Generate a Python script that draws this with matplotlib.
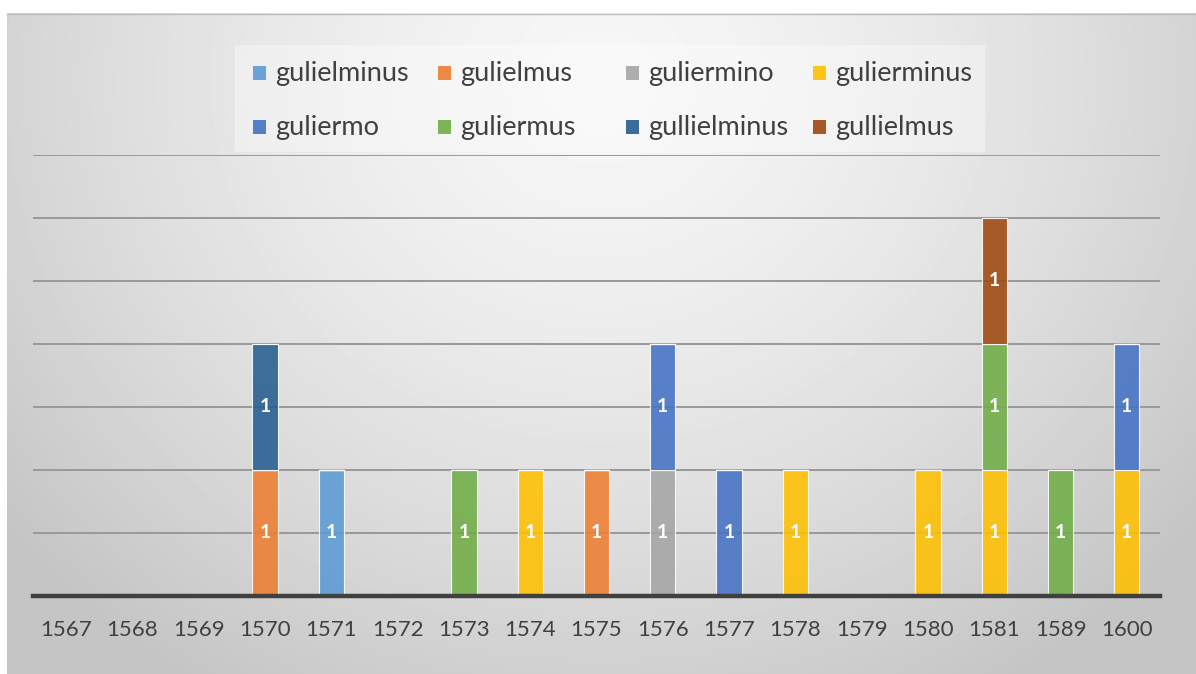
import numpy as np
import matplotlib.pyplot as plt
from matplotlib.patches import Rectangle

plt.rcParams['font.family'] = ['Lato', 'DejaVu Sans']

years = ['1567', '1568', '1569', '1570', '1571', '1572', '1573', '1574', '1575',
         '1576', '1577', '1578', '1579', '1580', '1581', '1589', '1600']

names = ['gulielminus', 'gulielmus', 'guliermino', 'gulierminus',
         'guliermo', 'guliermus', 'gullielminus', 'gullielmus']

#                1567 68 69 70 71 72 73 74 75 76 77 78 79 80 81 89 1600
gulielminus  = [0, 0, 0, 0, 1, 0, 0, 0, 0, 0, 0, 0, 0, 0, 0, 0, 0]
gulielmus    = [0, 0, 0, 1, 0, 0, 0, 0, 1, 0, 0, 0, 0, 0, 0, 0, 0]
guliermino   = [0, 0, 0, 0, 0, 0, 0, 0, 0, 1, 0, 0, 0, 0, 0, 0, 0]
gulierminus  = [0, 0, 0, 0, 0, 0, 0, 1, 0, 0, 0, 1, 0, 1, 1, 0, 1]
guliermo     = [0, 0, 0, 0, 0, 0, 0, 0, 0, 1, 1, 0, 0, 0, 0, 0, 1]
guliermus    = [0, 0, 0, 0, 0, 0, 1, 0, 0, 0, 0, 0, 0, 0, 1, 1, 0]
gullielminus = [0, 0, 0, 1, 0, 0, 0, 0, 0, 0, 0, 0, 0, 0, 0, 0, 0]
gullielmus   = [0, 0, 0, 0, 0, 0, 0, 0, 0, 0, 0, 0, 0, 0, 1, 0, 0]

series = [gulielminus, gulielmus, guliermino, gulierminus,
          guliermo, guliermus, gullielminus, gullielmus]
colors = ['#5B9BD5', '#ED7D31', '#A5A5A5', '#FFC000',
          '#4472C4', '#70AD47', '#255E91', '#9E480E']

W, H = 1196, 674
fig = plt.figure(figsize=(W / 100, H / 100), dpi=100)
fig.patch.set_facecolor('white')

def fx(px):
    return px / W

def fy(py):
    return 1 - py / H

# radial grey backdrop of the chart area
bg = fig.add_axes([fx(7), 0, 1 - fx(7), fy(13)])
yy, xx = np.mgrid[13:H, 7:W]
d = np.sqrt(((xx - 600) / 700.0) ** 2 + ((yy - 80) / 650.0) ** 2)
shade = np.clip(0.965 - 0.17 * d ** 1.5, 0.77, 1.0)
bg.imshow(shade, cmap='gray', vmin=0, vmax=1, aspect='auto',
          interpolation='bilinear')
bg.axis('off')
fig.add_artist(plt.Line2D([fx(7), 1], [fy(13.5), fy(13.5)],
                          transform=fig.transFigure, color='#BDBDBD', lw=1))

ax = fig.add_axes([fx(33), 1 - 596 / H, fx(1160 - 33), 441 / H])
ax.set_facecolor('none')
x = np.arange(len(years))
bottom = np.zeros(len(years))
for vals, name, col in zip(series, names, colors):
    vals = np.array(vals, dtype=float)
    bars = ax.bar(x, vals, 0.38, bottom=bottom, color=col, alpha=0.88,
                  edgecolor=(1, 1, 1, 0.35), linewidth=0.8, zorder=2)
    for b, v in zip(bars, vals):
        if v > 0:
            ax.text(b.get_x() + b.get_width() / 2, b.get_y() + v / 2,
                    f'{v:g}', ha='center', va='center', color='white',
                    fontsize=14, fontweight='bold', zorder=3)
    bottom += vals

ax.set_xlim(-0.5, len(years) - 0.5)
ax.set_ylim(0, 3.5)
ax.set_yticks(np.arange(0, 3.51, 0.5))
ax.yaxis.grid(True, color='#999999', lw=1.4, zorder=0)
ax.set_axisbelow(True)
ax.tick_params(axis='y', left=False, labelleft=False)
ax.set_xticks(x)
ax.set_xticklabels(years, fontsize=16, color='#404040')
ax.tick_params(axis='x', length=0, pad=17)
for s in ax.spines.values():
    s.set_visible(False)
ax.axhline(0, color='#404040', lw=3.2, zorder=4, clip_on=False)

# legend, 4 columns x 2 rows
fig.add_artist(Rectangle((fx(235), fy(152)), fx(985 - 235), (152 - 45) / H,
                         transform=fig.transFigure, facecolor='white',
                         alpha=0.35, edgecolor='none'))
col_x = [253, 438, 626, 813]
row_y = [73, 127]
for i, (name, col) in enumerate(zip(names, colors)):
    cx = col_x[i % 4]
    cy = row_y[i // 4]
    fig.add_artist(Rectangle((fx(cx), fy(cy + 6.5)), fx(13), 13 / H,
                             transform=fig.transFigure, facecolor=col,
                             edgecolor='none', alpha=0.9))
    fig.text(fx(cx + 22), fy(cy + 1), name, fontsize=19.5, color='#404040',
             ha='left', va='center')

fig.savefig('out.png', dpi=100)
